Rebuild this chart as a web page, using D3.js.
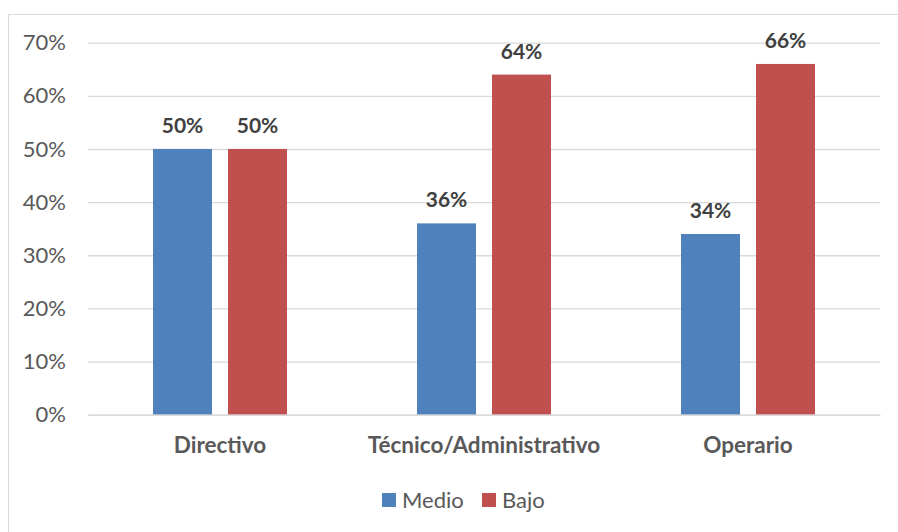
<!DOCTYPE html>
<html>
<head>
<meta charset="utf-8">
<script src="https://cdn.jsdelivr.net/npm/d3@7"></script>
<style>
  html, body { margin: 0; padding: 0; background: #fff; }
  svg { display: block; font-family: Lato, "Open Sans", sans-serif; }
</style>
</head>
<body>
<svg id="chart" width="898" height="532"></svg>
<script>
// Nivel por categoría de cargo
const categories = ["Directivo", "Técnico/Administrativo", "Operario"];
const seriesNames = ["Medio", "Bajo"];
const medio = [0.50, 0.36, 0.34];
const bajo = [0.50, 0.64, 0.66];
const yTicks = [0, 0.1, 0.2, 0.3, 0.4, 0.5, 0.6, 0.7];
const colors = ["#4F81BD", "#C0504D"];

const table = categories.map((c, i) => ({ category: c, values: [medio[i], bajo[i]] }));

const svg = d3.select("#chart");
const W = 898, H = 532;
const plot = { left: 88, right: 880, top: 42.7, bottom: 414.7 };

// Outer chart border
svg.append("rect")
  .attr("x", 8.5).attr("y", 14.5)
  .attr("width", W + 10).attr("height", H + 10)
  .attr("fill", "none").attr("stroke", "#D9D9D9").attr("stroke-width", 1);

const y = d3.scaleLinear().domain([0, 0.7]).range([plot.bottom, plot.top]);
const x0 = d3.scaleBand().domain(categories).range([plot.left, plot.right]).padding(0);
const groupW = x0.bandwidth();
const x1 = d3.scaleBand().domain(seriesNames)
  .range([65 / 264 * groupW, 199 / 264 * groupW])
  .paddingInner(16 / 75).paddingOuter(0);

// Gridlines and y labels via axis
const yAxis = d3.axisLeft(y).tickValues(yTicks)
  .tickSize(-(plot.right - plot.left))
  .tickFormat(d3.format(".0%"))
  .tickPadding(22);
const gy = svg.append("g").attr("transform", `translate(${plot.left},0)`).call(yAxis);
gy.select(".domain").remove();
gy.selectAll(".tick line").attr("stroke", "#D9D9D9").attr("stroke-width", 1.3);
gy.selectAll(".tick text")
  .attr("fill", "#595959").attr("font-size", 22)
  .attr("font-family", "Lato, 'Open Sans', sans-serif");

// Bars
const groups = svg.append("g").selectAll("g").data(table).join("g")
  .attr("transform", d => `translate(${x0(d.category)},0)`);

groups.selectAll("rect")
  .data(d => d.values.map((v, i) => ({ key: seriesNames[i], value: v, i })))
  .join("rect")
  .attr("x", d => x1(d.key))
  .attr("width", x1.bandwidth())
  .attr("y", d => y(d.value))
  .attr("height", d => y(0) - y(d.value))
  .attr("fill", d => colors[d.i]);

// Value labels
groups.selectAll("text.val")
  .data(d => d.values.map((v, i) => ({ key: seriesNames[i], value: v })))
  .join("text")
  .attr("class", "val")
  .attr("x", d => x1(d.key) + x1.bandwidth() / 2)
  .attr("y", d => y(d.value) - 16)
  .attr("text-anchor", "middle")
  .attr("font-size", 21).attr("font-weight", "bold")
  .attr("fill", "#404040")
  .text(d => d3.format(".0%")(d.value));

// Category axis labels
const xAxis = d3.axisBottom(x0).tickSize(0).tickPadding(22);
const gx = svg.append("g").attr("transform", `translate(0,${plot.bottom})`).call(xAxis);
gx.select(".domain").attr("stroke", "#D9D9D9").attr("stroke-width", 1.3);
gx.selectAll(".tick text")
  .attr("fill", "#595959").attr("font-size", 22.5).attr("font-weight", "bold")
  .attr("font-family", "Lato, 'Open Sans', sans-serif");

// Legend
const legend = svg.append("g").attr("transform", "translate(382,493)");
const items = [{ name: "Medio", x: 0 }, { name: "Bajo", x: 100 }];
items.forEach((it, i) => {
  legend.append("rect").attr("x", it.x).attr("y", 0).attr("width", 14).attr("height", 14)
    .attr("fill", colors[i]);
  legend.append("text").attr("x", it.x + 20).attr("y", 7).attr("dy", "0.35em")
    .attr("font-size", 22).attr("fill", "#595959").text(it.name);
});
</script>
</body>
</html>
